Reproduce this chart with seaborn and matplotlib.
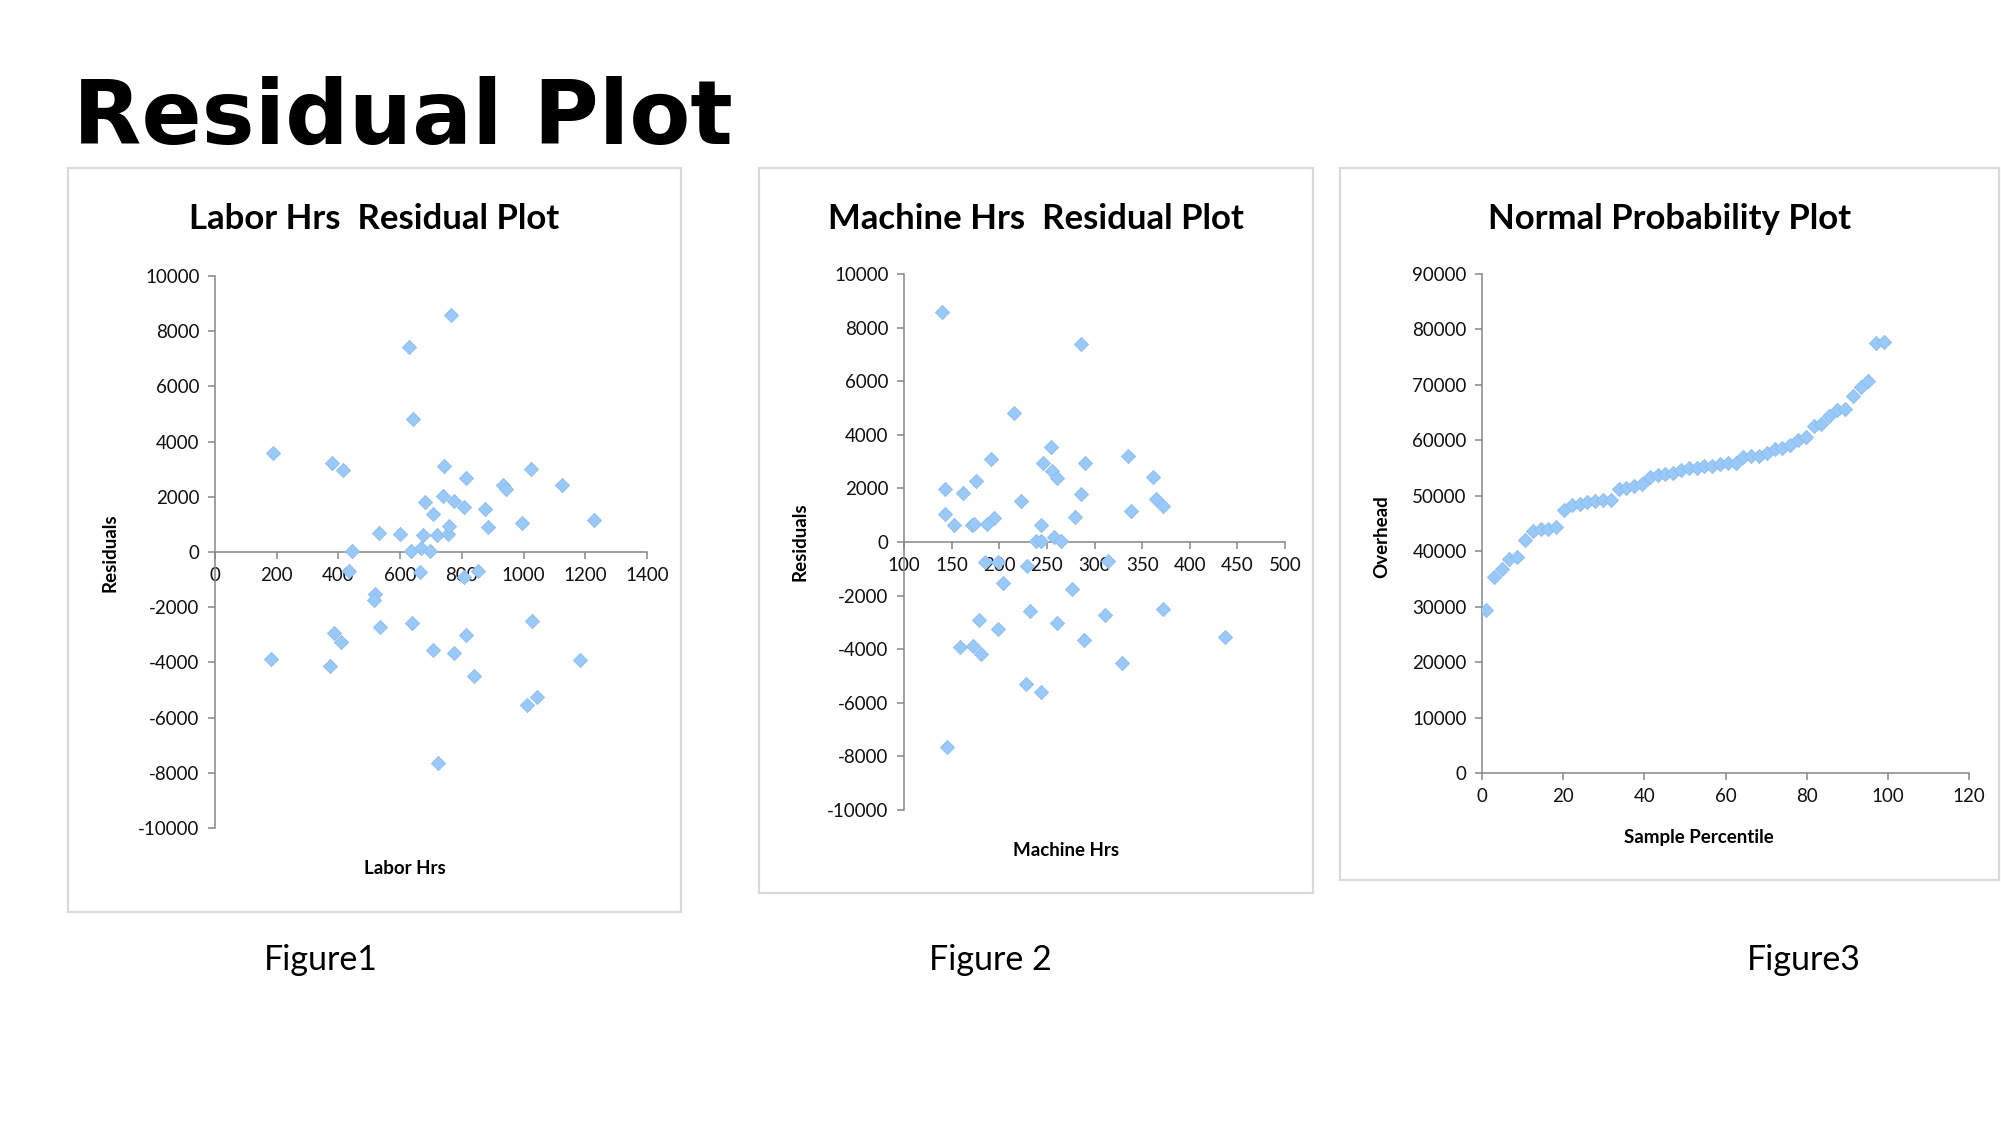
import matplotlib
matplotlib.use("Agg")
import matplotlib.pyplot as plt
import seaborn as sns
import pandas as pd
from matplotlib.patches import Rectangle

# ---------------- data ----------------
labor_hrs = [189, 181, 379, 416, 386, 407, 372, 444, 435, 530, 518, 514, 536, 601,
             630, 642, 634, 637, 666, 663, 674, 680, 696, 705, 705, 719, 740, 743,
             754, 757, 724, 765, 773, 773, 807, 813, 812, 808, 838, 851, 874, 885,
             933, 943, 994, 1023, 1026, 1011, 1045, 1125, 1183, 1229]
labor_resid = [3570, -3880, 3230, 2965, -2930, -3260, -4130, 50, -690, 700, -1510, -1755,
               -2705, 655, 7410, 4835, 50, -2560, 145, -720, 630, 1800, 35, 1390, -3535,
               615, 2025, 3105, 655, 945, -7630, 8600, 1845, -3650, 1620, 2690, -3020,
               -895, -4510, -680, 1545, 910, 2435, 2295, 1058, 2990, -2497, -5560, -5265,
               2440, -3920, 1170]

machine_hrs = [140, 286, 215, 254, 191, 335, 246, 290, 255, 261, 361, 143, 176, 162,
               223, 286, 365, 372, 338, 143, 280, 194, 152, 171, 174, 187, 244, 239,
               244, 257, 265, 185, 199, 229, 314, 204, 276, 232, 179, 199, 261, 311,
               372, 159, 172, 181, 289, 329, 437, 228, 244, 145]
machine_resid = [8571, 7390, 4815, 3545, 3086, 3210, 2945, 2945, 2646, 2381, 2416, 1993,
                 2275, 1834, 1534, 1781, 1587, 1358, 1164, 1041, 917, 882, 635, 635, 688,
                 653, 617, 35, 35, 176, 35, -741, -741, -882, -705, -1517, -1764, -2575,
                 -2928, -3245, -3034, -2716, -2504, -3915, -3880, -4162, -3668, -4533,
                 -3545, -5291, -5591, -7637]

sample_percentile = [0.96, 2.88, 4.81, 6.73, 8.65, 10.58, 12.50, 14.42, 16.35, 18.27,
                     20.19, 22.12, 24.04, 25.96, 27.88, 29.81, 31.73, 33.65, 35.58, 37.50,
                     39.42, 41.35, 43.27, 45.19, 47.12, 49.04, 50.96, 52.88, 54.81, 56.73,
                     58.65, 60.58, 62.50, 64.42, 66.35, 68.27, 70.19, 72.12, 74.04, 75.96,
                     77.88, 79.81, 81.73, 83.65, 85.58, 87.50, 89.42, 91.35, 93.27, 95.19,
                     97.12, 99.04]
overhead = [29400, 35350, 36860, 38660, 38970, 41970, 43660, 43960, 44080, 44380,
            47390, 48290, 48590, 48890, 49010, 49280, 49300, 51180, 51480, 51780,
            52080, 53410, 53830, 54010, 54020, 54730, 54970, 55030, 55330, 55390,
            55750, 55990, 56000, 57080, 57200, 57260, 57680, 58400, 58700, 59240,
            60020, 60690, 62610, 62910, 64300, 65560, 65740, 68030, 69650, 70730,
            77530, 77650]

labor_xticks = [0, 200, 400, 600, 800, 1000, 1200, 1400]
machine_xticks = [100, 150, 200, 250, 300, 350, 400, 450, 500]
resid_yticks = [-10000, -8000, -6000, -4000, -2000, 0, 2000, 4000, 6000, 8000, 10000]
pct_xticks = [0, 20, 40, 60, 80, 100, 120]
overhead_yticks = [0, 10000, 20000, 30000, 40000, 50000, 60000, 70000, 80000, 90000]

# ---------------- style ----------------
sns.set_theme(style="white")
plt.rcParams["font.family"] = ["Lato", "DejaVu Sans"]
plt.rcParams["axes.unicode_minus"] = False

W, H = 2001, 1125
fig = plt.figure(figsize=(W / 100, H / 100), dpi=100)
fig.patch.set_facecolor("white")

MARK = "#99C9F8"
MEDGE = "#8BBCEB"
AXC = "#868686"


def fx(px):
    return px / W


def fy(py):
    return 1 - py / H


def add_ax(l, t, r, b):
    return fig.add_axes([fx(l), fy(b), fx(r) - fx(l), fy(t) - fy(b)])


def box(l, t, r, b):
    fig.add_artist(Rectangle((fx(l), fy(b)), fx(r) - fx(l), fy(t) - fy(b),
                             transform=fig.transFigure, fill=False,
                             edgecolor="#d9d9d9", linewidth=1.6))


def style(ax, xlim, xticks, ylim, yticks, zero_axis):
    ax.set_xlim(xlim)
    ax.set_ylim(ylim)
    ax.set_xticks(xticks)
    ax.set_yticks(yticks)
    ax.set_xticklabels([str(t) for t in xticks])
    ax.set_yticklabels([str(t) for t in yticks])
    ax.set_facecolor("none")
    ax.grid(False)
    for s in ["top", "right"]:
        ax.spines[s].set_visible(False)
    for s in ["left", "bottom"]:
        ax.spines[s].set_color(AXC)
        ax.spines[s].set_linewidth(1.1)
    if zero_axis:
        ax.spines["bottom"].set_position(("data", 0))
    ax.tick_params(axis="both", which="major", direction="out", length=5, width=1.1,
                   color=AXC, labelsize=13.5, labelcolor="#111111",
                   bottom=True, left=True)
    ax.tick_params(axis="y", pad=6)
    ax.tick_params(axis="x", pad=6)
    ax.set_xlabel("")
    ax.set_ylabel("")


def scatter(ax, df, x, y):
    sns.scatterplot(data=df, x=x, y=y, ax=ax, marker="D", s=52, color=MARK,
                    edgecolor=MEDGE, linewidth=0.6, legend=False, zorder=3)


# panel borders
box(68, 168, 681, 912)
box(759, 168, 1313, 893)
box(1340, 168, 1999, 880)

# ---- Figure 1: Labor Hrs residual plot ----
ax1 = add_ax(215, 276, 647, 828)
df1 = pd.DataFrame({"Labor Hrs": labor_hrs, "Residuals": labor_resid})
scatter(ax1, df1, "Labor Hrs", "Residuals")
style(ax1, (0, 1400), labor_xticks, (-10000, 10000), resid_yticks, True)

# ---- Figure 2: Machine Hrs residual plot ----
ax2 = add_ax(904, 274, 1285, 810)
df2 = pd.DataFrame({"Machine Hrs": machine_hrs, "Residuals": machine_resid})
scatter(ax2, df2, "Machine Hrs", "Residuals")
style(ax2, (100, 500), machine_xticks, (-10000, 10000), resid_yticks, True)

# ---- Figure 3: Normal probability plot ----
ax3 = add_ax(1482, 274, 1969, 773)
df3 = pd.DataFrame({"Sample Percentile": sample_percentile, "Overhead": overhead})
scatter(ax3, df3, "Sample Percentile", "Overhead")
style(ax3, (0, 120), pct_xticks, (0, 90000), overhead_yticks, False)

# chart titles
tkw = dict(fontsize=25, fontweight="bold", ha="center", va="center", color="black")
fig.text(fx(374), fy(219), "Labor Hrs  Residual Plot", **tkw)
fig.text(fx(1036), fy(219), "Machine Hrs  Residual Plot", **tkw)
fig.text(fx(1670), fy(219), "Normal Probability Plot", **tkw)

# axis labels
lkw = dict(fontsize=13.5, fontweight="bold", ha="center", va="center", color="black")
fig.text(fx(110), fy(553), "Residuals", rotation=90, **lkw)
fig.text(fx(405), fy(869), "Labor Hrs", **lkw)
fig.text(fx(800), fy(542), "Residuals", rotation=90, **lkw)
fig.text(fx(1066), fy(850), "Machine Hrs", **lkw)
fig.text(fx(1382), fy(537), "Overhead", rotation=90, **lkw)
fig.text(fx(1699), fy(838), "Sample Percentile", **lkw)

# main title
fig.text(fx(73), fy(144), "Residual Plot", fontsize=64, fontweight="bold",
         family=["DejaVu Sans"], ha="left", va="baseline", color="black")

# captions
ckw = dict(fontsize=24.5, ha="center", va="center", color="black")
fig.text(fx(321), fy(960), "Figure1", **ckw)
fig.text(fx(990), fy(960), "Figure 2", **ckw)
fig.text(fx(1804), fy(960), "Figure3", **ckw)

fig.savefig("out.png", dpi=100, facecolor="white")
